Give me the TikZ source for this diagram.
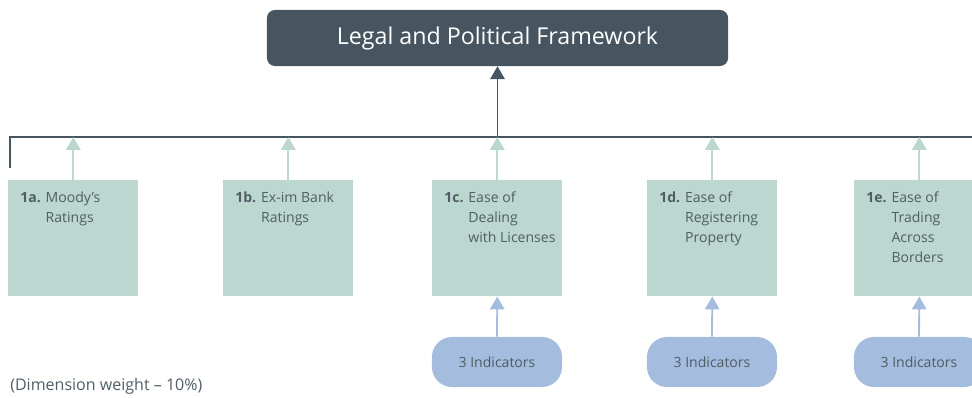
\documentclass[tikz,border=0pt]{standalone}
\usepackage{fontspec}
\setmainfont{Open Sans}
\usetikzlibrary{arrows.meta,positioning}
\definecolor{slate}{HTML}{46555F}
\definecolor{sage}{HTML}{BCD7CF}
\definecolor{sky}{HTML}{A4BCDD}
\definecolor{ink}{HTML}{4F5D65}
\tikzset{
  topbox/.style={fill=slate, rounded corners=0.2cm, inner sep=0pt, minimum width=11.525cm,
    minimum height=1.4cm, text=white, font=\fontsize{16.5}{19}\selectfont},
  dimbox/.style={fill=sage, inner sep=0pt, minimum width=3.25cm, minimum height=2.9cm, anchor=north west},
  dimtext/.style={anchor=north west, inner sep=0pt, text=ink, font=\fontsize{10}{14.2}\selectfont},
  indbox/.style={fill=sky, rounded corners=0.5cm, inner sep=0pt, minimum width=3.25cm,
    minimum height=1.25cm, text=ink, font=\fontsize{10}{12}\selectfont},
  bar/.style={draw=slate, line width=1.3pt},
  updark/.style={bar, -{Triangle[width=0.36cm,length=0.32cm]}},
  upgreen/.style={draw=sage, line width=1.3pt, -{Triangle[width=0.36cm,length=0.32cm]}},
  upblue/.style={draw=sky, line width=1.3pt, -{Triangle[width=0.36cm,length=0.32cm]}}
}
\begin{document}
\begin{tikzpicture}[x=0.025cm, y=-0.025cm]
\useasboundingbox (0,0) rectangle (972,398);

% the framework on top
\node[topbox] (frame) at (497.5,38) {Legal and Political Framework};

% the bar that gathers the five dimensions
\coordinate (barL) at (10,137);
\coordinate (barR) at (972,137);
\draw[bar] (10,168) -- (barL) -- (barR);
\draw[updark] (frame.south |- barL) -- (frame.south);

% dimensions
\node[dimbox] (b1a) at (8,180) {};
\node[dimbox] (b1b) at (223,180) {};
\node[dimbox] (b1c) at (432,180) {};
\node[dimbox] (b1d) at (647,180) {};
\node[dimbox] (b1e) at (854,180) {};

\node[dimtext] (t1a) at ([shift={(12,8)}]b1a.north west)
  {\begin{tabular}{@{}l@{ }l@{}}\textbf{1a.} & Moody’s\\ & Ratings\end{tabular}};
\node[dimtext] (t1b) at ([shift={(12,8)}]b1b.north west)
  {\begin{tabular}{@{}l@{ }l@{}}\textbf{1b.} & Ex-im Bank\\ & Ratings\end{tabular}};
\node[dimtext] (t1c) at ([shift={(12,8)}]b1c.north west)
  {\begin{tabular}{@{}l@{ }l@{}}\textbf{1c.} & Ease of\\ & Dealing\\ & with Licenses\end{tabular}};
\node[dimtext] (t1d) at ([shift={(12,8)}]b1d.north west)
  {\begin{tabular}{@{}l@{ }l@{}}\textbf{1d.} & Ease of\\ & Registering\\ & Property\end{tabular}};
\node[dimtext] (t1e) at ([shift={(12,8)}]b1e.north west)
  {\begin{tabular}{@{}l@{ }l@{}}\textbf{1e.} & Ease of\\ & Trading\\ & Across\\ & Borders\end{tabular}};

\draw[upgreen] (b1a.north) -- (b1a.north |- barL);
\draw[upgreen] (b1b.north) -- (b1b.north |- barL);
\draw[upgreen] (b1c.north) -- (b1c.north |- barL);
\draw[upgreen] (b1d.north) -- (b1d.north |- barL);
\draw[upgreen] (b1e.north) -- (b1e.north |- barL);

% indicators under 1c-1e
\node[indbox] (i1c) at (497,362) {3 Indicators};
\node[indbox] (i1d) at (712,362) {3 Indicators};
\node[indbox] (i1e) at (919,362) {3 Indicators};

\draw[upblue] (i1c.north) -- (b1c.south);
\draw[upblue] (i1d.north) -- (b1d.south);
\draw[upblue] (i1e.north) -- (b1e.south);

\node[anchor=west, inner sep=0pt, text=ink, font=\fontsize{11.4}{14}\selectfont] (note) at (10,386)
  {(Dimension weight – 10\%)};
\end{tikzpicture}
\end{document}
